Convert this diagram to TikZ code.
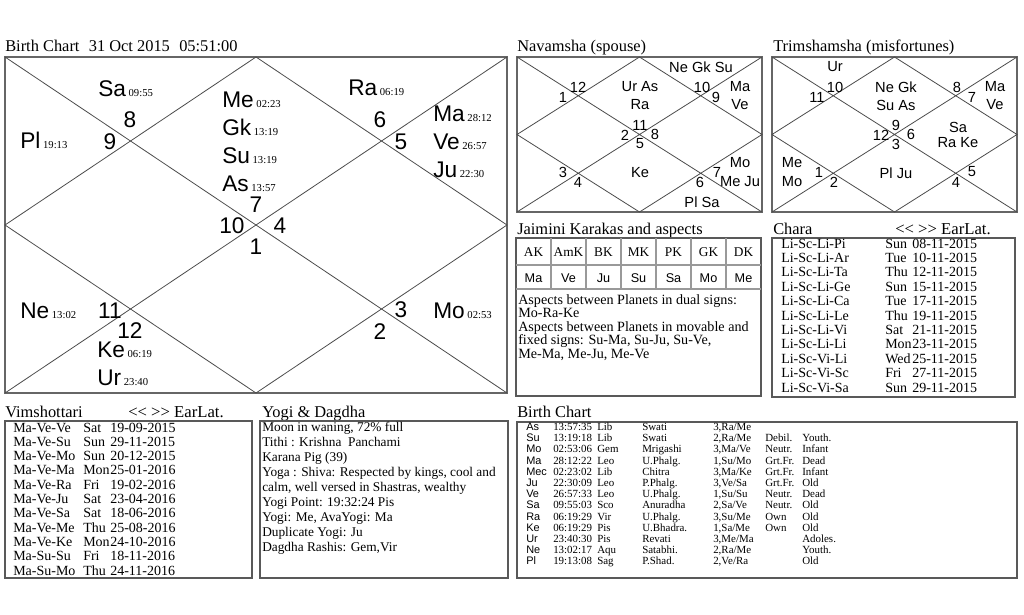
\documentclass[tikz,border=0pt]{standalone}
\usepackage{fontspec}
\setmainfont{Liberation Serif}
\newfontfamily\arialfam{Liberation Sans}
\usepackage{tikz}
\newcommand\chBig{\arialfam\fontsize{17}{17}\selectfont}
\newcommand\chDeg{\rmfamily\fontsize{8}{8}\selectfont}
\newcommand\chSmall{\arialfam\fontsize{11}{11}\selectfont}
\newcommand\chTitle{\rmfamily\fontsize{12.3}{12.3}\selectfont}
\newcommand\chEar{\rmfamily\fontsize{12.5}{12.5}\selectfont}
\newcommand\chList{\rmfamily\fontsize{10.5}{10.5}\selectfont}
\newcommand\chAsp{\rmfamily\fontsize{10.6}{10.6}\selectfont}
\newcommand\chYogi{\rmfamily\fontsize{10}{10}\selectfont}
\newcommand\chKar{\rmfamily\fontsize{10}{10}\selectfont}
\newcommand\chKarSans{\arialfam\fontsize{9.5}{9.5}\selectfont}
\newcommand\chTab{\rmfamily\fontsize{8.2}{8.2}\selectfont}
\newcommand\chTabSans{\arialfam\fontsize{8.2}{8.2}\selectfont}

\begin{document}
\begin{tikzpicture}[
  x=0.75pt, y=-0.75pt,
  frame/.style={draw=black!60, line width=1.6pt},
  box/.style={draw=black!65, line width=1pt},
  chartline/.style={draw=black!70, line width=0.6pt},
  cellline/.style={draw=black!40, line width=0.8pt},
  title/.style={font=\chTitle, inner sep=0pt, anchor=base west},
  planet/.style={font=\chBig, inner sep=0pt, anchor=base west},
  house/.style={font=\chBig, inner sep=0pt},
  varga/.style={font=\chSmall, inner sep=0pt},
  lst/.style={font=\chList, inner sep=0pt, anchor=base west},
  tab/.style={font=\chTab, inner sep=0pt, anchor=base west},
]
\useasboundingbox (0,0) rectangle (1024,614);
\fill[white] (0,0) rectangle (1024,614);

%% Birth chart (rasi)
\node[title] (bc-title) at (5,51)
  {Birth Chart\hspace{7pt}31 Oct 2015\hspace{7pt}05:51:00};
\draw[frame] (5,57) rectangle (507,393);
\draw[chartline] (5,57) -- (507,393) (507,57) -- (5,393)
  (256,57) -- (507,225) -- (256,393) -- (5,225) -- cycle;
\foreach \x/\y/\pl/\dg in {98/96/Sa/09:55, 20/148/Pl/19:13, 222/107/Me/02:23,
    222/135/Gk/13:19, 222/163/Su/13:19, 222/191/As/13:57, 348/95/Ra/06:19,
    433/121/Ma/28:12, 433/149/Ve/26:57, 433/177/Ju/22:30, 20/318/Ne/13:02,
    97/357/Ke/06:19, 97/385/Ur/23:40, 433/318/Mo/02:53}
  \node[planet] (bc-\pl) at (\x,\y) {\pl\kern2pt{\chDeg\dg}};
\foreach \x/\y/\h in {130/120/8, 110/141.5/9, 256/205/7, 232/226/10, 280/226/4,
    256/246.5/1, 380/120/6, 401/141.5/5, 110/311/11, 130/331/12, 401/310/3, 380/331.5/2}
  \node[house] (bc-h\h) at (\x,\y) {\h};

%% Navamsha
\node[title] (nv-title) at (517,51) {Navamsha (spouse)};
\draw[frame] (517,57) rectangle (762,212);
\draw[chartline] (517,57) -- (762,212) (762,57) -- (517,212)
  (639.5,57) -- (762,134.5) -- (639.5,212) -- (517,134.5) -- cycle;
\foreach \x/\y/\t [count=\i] in {578/87/12, 563/97/1, 640/87/Ur As, 640/105/Ra,
    701/67/Ne Gk Su, 702/87/10, 716/97/9, 740/87/Ma, 740/105/Ve, 640/125/11,
    625/135/2, 655/134/8, 640/144/5, 563/172/3, 578/182/4, 640/173/Ke, 717/172/7,
    700/182/6, 740/163/Mo, 740/182/Me Ju, 702/202/Pl Sa}
  \node[varga] (nv-\i) at (\x,\y) {\t};

%% Trimshamsha
\node[title] (tr-title) at (773,51) {Trimshamsha (misfortunes)};
\draw[frame] (772,57) rectangle (1017,212);
\draw[chartline] (772,57) -- (1017,212) (1017,57) -- (772,212)
  (894.5,57) -- (1017,134.5) -- (894.5,212) -- (772,134.5) -- cycle;
\foreach \x/\y/\t [count=\i] in {835/67/Ur, 835/87/10, 817/97/11, 896/87/Ne Gk,
    896/105/Su As, 957/87/8, 972/97/7, 995/87/Ma, 995/105/Ve, 896/125/9,
    881/135/12, 911/134/6, 896/144/3, 958/127/Sa, 958/143/Ra Ke, 792/163/Me,
    792/182/Mo, 819/172/1, 834/182/2, 896/173/Pl Ju, 972/172/5, 956/182/4}
  \node[varga] (tr-\i) at (\x,\y) {\t};

%% Jaimini karakas
\node[title] (jk-title) at (517,234) {Jaimini Karakas and aspects};
\draw[box] (516,238) rectangle (761,396);
\draw[cellline] (516,265) -- (761,265) (516,289) -- (761,289);
\foreach \i in {1,...,6}
  \draw[cellline] ({516+\i*35},238) -- ({516+\i*35},289);
\foreach \k/\pl [count=\i from 0] in {AK/Ma, AmK/Ve, BK/Ju, MK/Su, PK/Sa, GK/Mo, DK/Me} {
  \node[inner sep=0pt, font=\chKar] (jk-k\i) at ({533.5+\i*35},252) {\k};
  \node[inner sep=0pt, font=\chKarSans] (jk-p\i) at ({533.5+\i*35},278) {\pl};
}
\foreach \t [count=\i from 0] in {Aspects between Planets in dual signs:, Mo-Ra-Ke,
    Aspects between Planets in movable and, {fixed signs: Su-Ma, Su-Ju, Su-Ve,},
    {Me-Ma, Me-Ju, Me-Ve}}
  \node[lst, font=\chAsp] (jk-l\i) at (518,{304+\i*13.6}) {\t};

%% Chara dasha
\node[title] (ch-title) at (773,234) {Chara};
\node[title, font=\chEar] (ch-nav) at (895,234) {<\kern0pt< >\kern0pt> EarLat.};
\draw[box] (772,238) rectangle (1015,397);
\foreach \ds/\dd/\dt [count=\i from 0] in {Li-Sc-Li-Pi/Sun/08-11-2015,
    Li-Sc-Li-Ar/Tue/10-11-2015, Li-Sc-Li-Ta/Thu/12-11-2015, Li-Sc-Li-Ge/Sun/15-11-2015,
    Li-Sc-Li-Ca/Tue/17-11-2015, Li-Sc-Li-Le/Thu/19-11-2015, Li-Sc-Li-Vi/Sat/21-11-2015,
    Li-Sc-Li-Li/Mon/23-11-2015, Li-Sc-Vi-Li/Wed/25-11-2015, Li-Sc-Vi-Sc/Fri/27-11-2015,
    Li-Sc-Vi-Sa/Sun/29-11-2015} {
  \node[lst] (ch-\i) at (781,{248+\i*14.4}) {\ds};
  \node[lst] (ch-d\i) at (885,{248+\i*14.4}) {\dd};
  \node[lst] (ch-t\i) at (912,{248+\i*14.4}) {\dt};
}

%% Vimshottari dasha
\node[title] (vm-title) at (5,417) {Vimshottari};
\node[title, font=\chEar] (vm-nav) at (128,417) {<\kern0pt< >\kern0pt> EarLat.};
\draw[box] (5,421) rectangle (252,578);
\foreach \ds/\dd/\dt [count=\i from 0] in {Ma-Ve-Ve/Sat/19-09-2015,
    Ma-Ve-Su/Sun/29-11-2015, Ma-Ve-Mo/Sun/20-12-2015, Ma-Ve-Ma/Mon/25-01-2016,
    Ma-Ve-Ra/Fri/19-02-2016, Ma-Ve-Ju/Sat/23-04-2016, Ma-Ve-Sa/Sat/18-06-2016,
    Ma-Ve-Me/Thu/25-08-2016, Ma-Ve-Ke/Mon/24-10-2016, Ma-Su-Su/Fri/18-11-2016,
    Ma-Su-Mo/Thu/24-11-2016} {
  \node[lst] (vm-\i) at (13,{432+\i*14.3}) {\ds};
  \node[lst] (vm-d\i) at (83,{432+\i*14.3}) {\dd};
  \node[lst] (vm-t\i) at (110,{432+\i*14.3}) {\dt};
}

%% Yogi & Dagdha
\node[title] (yg-title) at (262,417) {Yogi \& Dagdha};
\draw[box] (260,421) rectangle (508,578);
\foreach \t [count=\i from 0] in {{Moon in waning, 72\% full}, Tithi : Krishna\ \ Panchami,
    Karana Pig (39), {Yoga : Shiva: Respected by kings, cool and},
    {calm, well versed in Shastras, wealthy}, Yogi Point: 19:32:24 Pis,
    {Yogi: Me, AvaYogi: Ma}, Duplicate Yogi: Ju, {Dagdha Rashis: Gem,Vir}}
  \node[lst, font=\chYogi] (yg-\i) at (262,{431+\i*15}) {\t};

%% Birth chart table
\node[title] (bt-title) at (517,417) {Birth Chart};
\draw[box] (517,422) rectangle (1017,578);
\foreach \pl/\dg/\sg/\nk/\pd/\dn/\ag [count=\i from 0] in {
    As/13:57:35/Lib/Swati/{3,Ra/Me}/{}/{},
    Su/13:19:18/Lib/Swati/{2,Ra/Me}/Debil./Youth.,
    Mo/02:53:06/Gem/Mrigashi/{3,Ma/Ve}/Neutr./Infant,
    Ma/28:12:22/Leo/U.Phalg./{1,Su/Mo}/Grt.Fr./Dead,
    Mec/02:23:02/Lib/Chitra/{3,Ma/Ke}/Grt.Fr./Infant,
    Ju/22:30:09/Leo/P.Phalg./{3,Ve/Sa}/Grt.Fr./Old,
    Ve/26:57:33/Leo/U.Phalg./{1,Su/Su}/Neutr./Dead,
    Sa/09:55:03/Sco/Anuradha/{2,Sa/Ve}/Neutr./Old,
    Ra/06:19:29/Vir/U.Phalg./{3,Su/Me}/Own/Old,
    Ke/06:19:29/Pis/U.Bhadra./{1,Sa/Me}/Own/Old,
    Ur/23:40:30/Pis/Revati/{3,Me/Ma}/{}/Adoles.,
    Ne/13:02:17/Aqu/Satabhi./{2,Ra/Me}/{}/Youth.,
    Pl/19:13:08/Sag/P.Shad./{2,Ve/Ra}/{}/Old} {
  \node[tab, font=\chTabSans] (bt-\i) at (526,{430.5+\i*11.2}) {\pl};
  \node[tab] (bt-g\i) at (553,{430.5+\i*11.2}) {\dg};
  \node[tab] (bt-s\i) at (597,{430.5+\i*11.2}) {\sg};
  \node[tab] (bt-n\i) at (642,{430.5+\i*11.2}) {\nk};
  \node[tab] (bt-p\i) at (713,{430.5+\i*11.2}) {\pd};
  \node[tab] (bt-r\i) at (765,{430.5+\i*11.2}) {\dn};
  \node[tab] (bt-a\i) at (802,{430.5+\i*11.2}) {\ag};
}

\end{tikzpicture}
\end{document}
